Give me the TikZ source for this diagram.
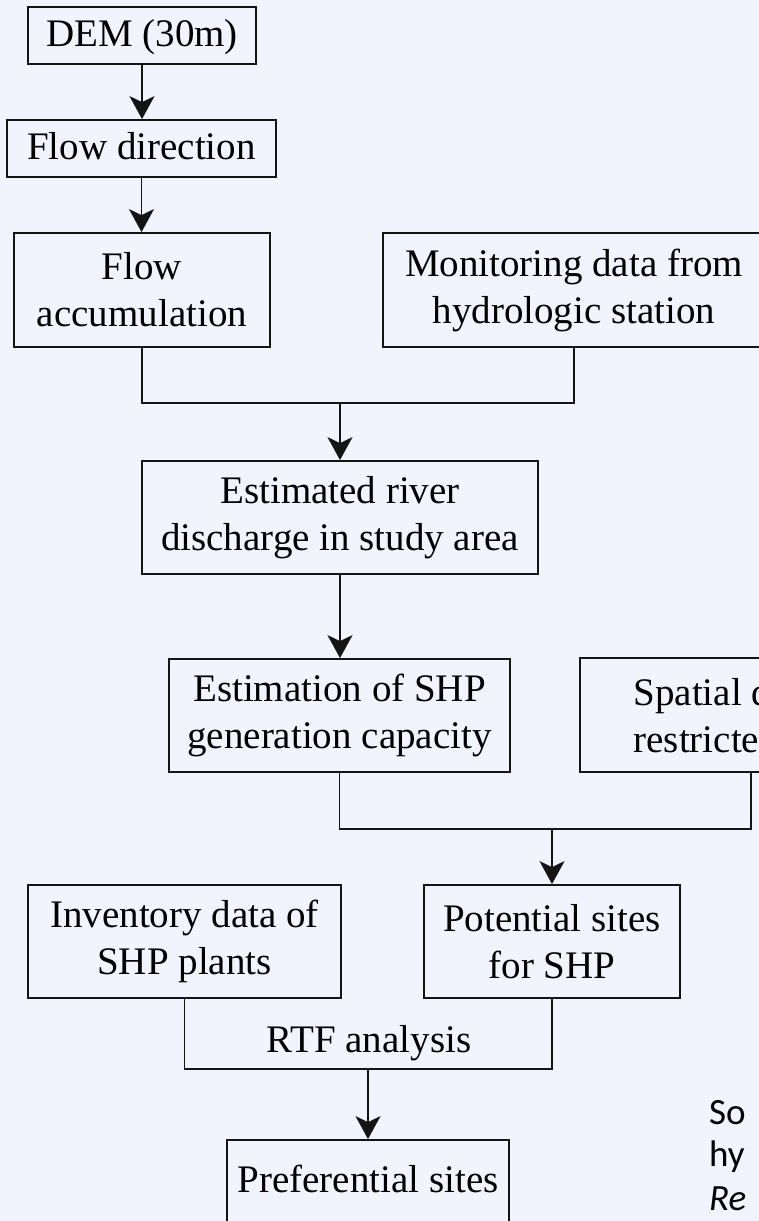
\documentclass[tikz,border=0pt]{standalone}
\usepackage{fontspec}
\setmainfont{Liberation Serif}
\newfontfamily\carlito{Carlito}
\usetikzlibrary{arrows.meta}
\definecolor{bgc}{RGB}{241,244,253}
\definecolor{ink}{RGB}{20,20,20}
\begin{document}
\begin{tikzpicture}[x=1pt,y=-1pt,
  box/.style={draw=ink, line width=1.8pt, inner sep=0pt, align=center, font=\fontsize{39}{47}\selectfont},
  onel/.style={text height=30pt, text depth=8pt},
  conn/.style={draw=ink, line width=1.8pt},
  arr/.style={conn, -{Stealth[length=23pt,width=25pt,inset=6pt]}},
  lbl/.style={anchor=base, inner sep=0pt, font=\fontsize{39}{47}\selectfont},
  srct/.style={anchor=base west, inner sep=0pt, font=\carlito\fontsize{37}{44}\selectfont, text=black}]
\fill[bgc] (0,0) rectangle (759,1221);
\useasboundingbox (0,0) rectangle (759,1221);

\node[box, onel, minimum width=228pt, minimum height=57pt] (dem) at (142,35.5) {DEM (30m)};
\node[box, onel, minimum width=269pt, minimum height=57pt] (fd) at (141.5,148.5) {Flow direction};
\node[box, minimum width=256pt, minimum height=114pt] (fa) at (142,290) {Flow\\accumulation};
\node[box, minimum width=382pt, minimum height=114pt] (mon) at (574,290) {Monitoring data from\\hydrologic station};
\node[box, minimum width=396pt, minimum height=113pt] (est) at (340,517.5) {Estimated river\\discharge in study area};
\node[box, minimum width=341pt, minimum height=113pt] (cap) at (339.5,715.5) {Estimation of SHP\\generation capacity};
\node[box, align=left, minimum width=342pt, minimum height=114pt] (spa) at (751,715) {Spatial data of\\restricted areas};
\node[box, minimum width=313pt, minimum height=113pt] (inv) at (184.5,941.5) {Inventory data of\\SHP plants};
\node[box, minimum width=256pt, minimum height=113pt] (pot) at (552,941.5) {Potential sites\\for SHP};
\node[box, minimum width=282pt, minimum height=113pt] (pref) at (368,1196.5) {};
\node[lbl] (preft) at (368,1192) {Preferential sites};

\coordinate (j1) at (340,403);
\coordinate (j2) at (552,829);
\coordinate (j3) at (368,1069);

\draw[arr] (dem.south) -- (dem.south |- fd.north);
\draw[arr] (fd.south) -- (fd.south |- fa.north);
\draw[conn] (fa.south) -- (fa.south |- j1) -- (mon.south |- j1) -- (mon.south);
\draw[arr] (j1) -- (est.north);
\draw[arr] (est.south) -- (est.south |- cap.north);
\draw[conn] (cap.south) -- (cap.south |- j2) -- (spa.south |- j2) -- (spa.south);
\draw[arr] (j2) -- (pot.north);
\draw[conn] (inv.south) -- (inv.south |- j3) -- (pot.south |- j3) -- (pot.south);
\draw[arr] (j3) -- (pref.north);
\node[lbl] (rtf) at (369,1052) {RTF analysis};

\node[srct] (s1) at (709,1124) {So};
\node[srct] (s2) at (709,1166) {hy};
\node[srct] (s3) at (709,1210) {\textit{Re}};
\end{tikzpicture}
\end{document}
